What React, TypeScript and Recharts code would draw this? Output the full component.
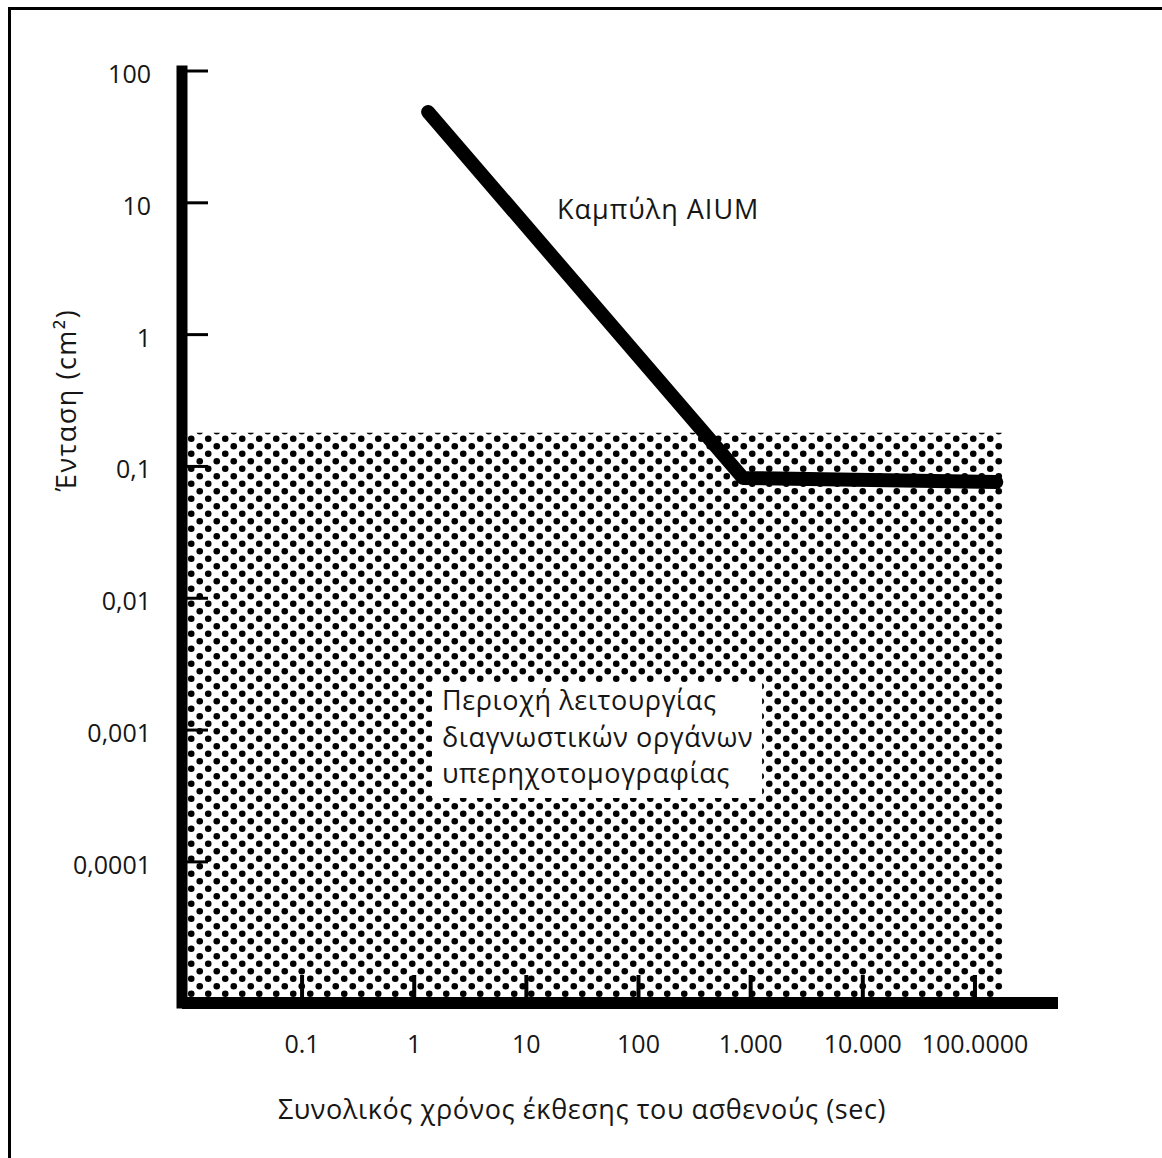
import React from 'react';
import { LineChart, Line, XAxis, YAxis, ReferenceArea, Label } from 'recharts';

// exposure time (sec) ticks and labels, as printed
const xTicks = [0.1, 1, 10, 100, 1000, 10000, 100000];
const xTickLabels = ['0.1', '1', '10', '100', '1.000', '10.000', '100.0000'];

// intensity ticks and labels
const yTicks = [100, 10, 1, 0.1, 0.01, 0.001, 0.0001];
const yTickLabels = ['100', '10', '1', '0,1', '0,01', '0,001', '0,0001'];

// AIUM curve
const aiumTime = [1.33, 855, 155000];
const aiumIntensity = [48.9, 0.0817, 0.0762];

// diagnostic operating region (dotted)
const regionTime = [0.0085, 178000];
const regionIntensity = [8.5e-6, 0.18];

// white label box inside the region
const boxTime = [1.44, 1265];
const boxIntensity = [0.000305, 0.00231];
const boxLines = ['Περιοχή λειτουργίας', 'διαγνωστικών οργάνων', 'υπερηχοτομογραφίας'];

const xDomain = [0.0085, 550000];
const yDomain = [8.5e-6, 100];

const aiumData = aiumTime.map((t, i) => ({ x: t, y: aiumIntensity[i] }));

const FONT = '"Open Sans", "Noto Sans", sans-serif';
const INK = '#161616';

const BoxLabel = (props: any) => {
  const vb = props.viewBox || {};
  return (
    <text x={vb.x + 10} y={vb.y + 28} fontFamily={FONT} fontSize={27} letterSpacing={0.6} fill={INK}>
      {boxLines.map((line, i) => (
        <tspan key={i} x={vb.x + 10} dy={i === 0 ? 0 : 36.5}>
          {line}
        </tspan>
      ))}
    </text>
  );
};

export default function App() {
  return (
    <div style={{ position: 'absolute', left: 0, top: 0, width: 1162, height: 1158, background: '#fff', overflow: 'hidden' }}>
      <div
        style={{
          position: 'absolute',
          left: 8,
          top: 7,
          width: 1170,
          height: 1170,
          borderTop: '3px solid #000',
          borderLeft: '3px solid #000',
        }}
      />
      <div style={{ position: 'absolute', left: 0, top: 0 }}>
        <LineChart
          width={1162}
          height={1158}
          data={aiumData}
          margin={{ top: 71, right: 104, left: 0, bottom: 30 }}
        >
          <defs>
            <pattern id="halftone" width="17" height="15" patternUnits="userSpaceOnUse">
              <circle cx="4.25" cy="3.75" r="3.3" fill="#000" />
              <circle cx="12.75" cy="11.25" r="3.3" fill="#000" />
            </pattern>
          </defs>
          <XAxis
            type="number"
            dataKey="x"
            scale="log"
            domain={xDomain}
            allowDataOverflow
            ticks={xTicks}
            tickFormatter={(v: number) => xTickLabels[xTicks.indexOf(v)] ?? ''}
            height={125}
            axisLine={{ stroke: '#000', strokeWidth: 12 }}
            tickLine={{ stroke: '#000', strokeWidth: 4 }}
            tickSize={-28}
            tickMargin={60}
            tick={{ fontFamily: FONT, fontSize: 25, fill: INK }}
            interval={0}
          />
          <YAxis
            type="number"
            dataKey="y"
            scale="log"
            domain={yDomain}
            allowDataOverflow
            ticks={yTicks}
            tickFormatter={(v: number) => yTickLabels[yTicks.indexOf(v)] ?? ''}
            width={182}
            axisLine={{ stroke: '#000', strokeWidth: 11, strokeLinecap: 'square' }}
            tickLine={{ stroke: '#000', strokeWidth: 3 }}
            tickSize={-26}
            tickMargin={57}
            tick={{ fontFamily: FONT, fontSize: 25, fill: INK, dy: 3 }}
            interval={0}
          />
          <ReferenceArea
            x1={regionTime[0]}
            x2={regionTime[1]}
            y1={regionIntensity[0]}
            y2={regionIntensity[1]}
            fill="url(#halftone)"
            fillOpacity={1}
            stroke="none"
            ifOverflow="hidden"
          />
          <ReferenceArea
            x1={boxTime[0]}
            x2={boxTime[1]}
            y1={boxIntensity[0]}
            y2={boxIntensity[1]}
            fill="#fff"
            fillOpacity={1}
            stroke="none"
          >
            <Label content={<BoxLabel />} />
          </ReferenceArea>
          <Line
            dataKey="y"
            type="linear"
            stroke="#000"
            strokeWidth={14}
            strokeLinecap="round"
            strokeLinejoin="round"
            dot={false}
            activeDot={false}
            isAnimationActive={false}
          />
          <text x={557} y={219} fontFamily={FONT} fontSize={27} letterSpacing={1} fill={INK}>
            Καμπύλη AIUM
          </text>
          <text x={582} y={1119} textAnchor="middle" fontFamily={FONT} fontSize={27} letterSpacing={0.6} fill={INK}>
            Συνολικός χρόνος έκθεσης του ασθενούς (sec)
          </text>
          <text
            x={0}
            y={0}
            transform="translate(76 400) rotate(-90)"
            textAnchor="middle"
            fontFamily={FONT}
            fontSize={27}
            letterSpacing={1.5}
            fill={INK}
          >
            Ένταση (cm²)
          </text>
        </LineChart>
      </div>
    </div>
  );
}
